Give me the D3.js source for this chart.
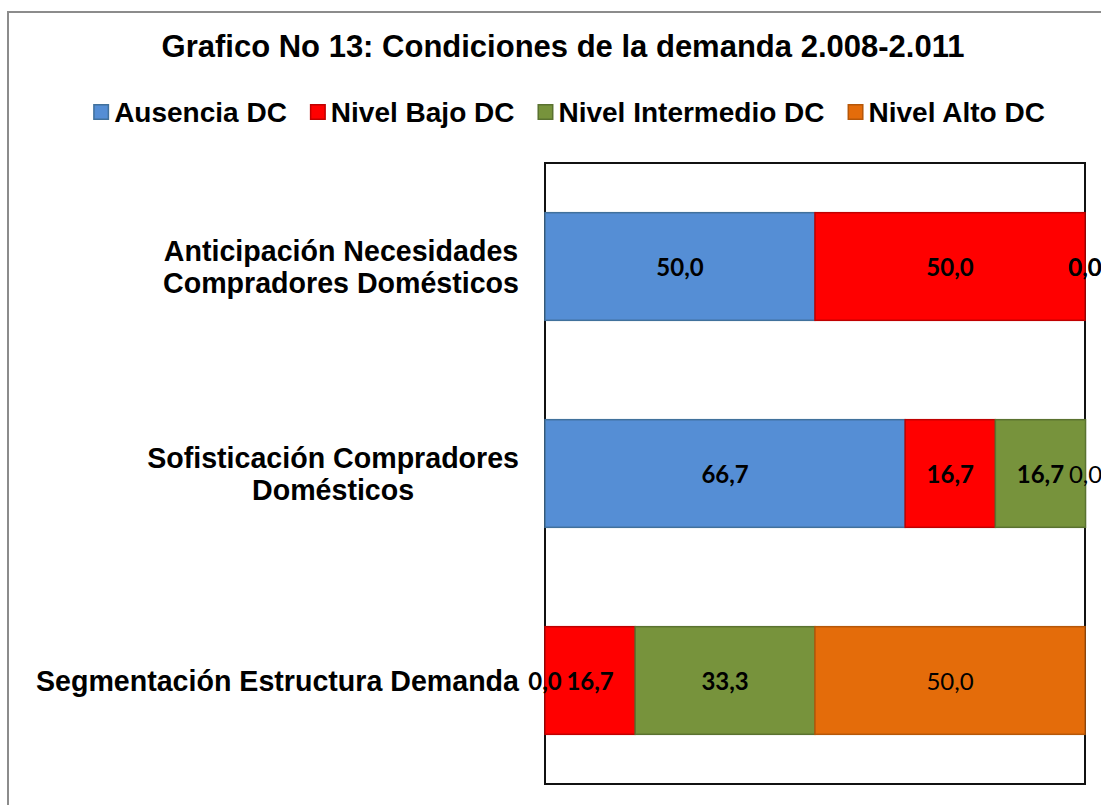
<!DOCTYPE html>
<html lang="es">
<head>
<meta charset="utf-8">
<title>Grafico No 13: Condiciones de la demanda</title>
<script src="https://cdn.jsdelivr.net/npm/d3@7"></script>
<style>
  body { margin: 0; background: #fff; }
  text { font-family: "Liberation Sans", Arial, sans-serif; }
  .val { font-family: Lato, "Open Sans", sans-serif; font-size: 24px; }
</style>
</head>
<body>
<script>
// categories (line breaks as in the original axis labels)
var categories = [
    "Anticipación Necesidades\nCompradores Domésticos",
    "Sofisticación Compradores\nDomésticos",
    "Segmentación Estructura Demanda"
];
var seriesNames = ["Ausencia DC", "Nivel Bajo DC", "Nivel Intermedio DC", "Nivel Alto DC"];

// values per series, one per category (%)
var ausencia   = [50.0, 66.7, 0.0];
var bajo       = [50.0, 16.7, 16.7];
var intermedio = [0.0, 16.7, 33.3];
var alto       = [0.0, 0.0, 50.0];

var w = 1101, h = 805;
var fills   = ["#558ed5", "#ff0000", "#77933c", "#e46c0a"];
var strokes = ["#41719c", "#c00000", "#5a7230", "#b65708"];
var boldLabel = [true, true, true, false];

var svg = d3.select("body").append("svg")
    .attr("width", w)
    .attr("height", h);

// outer chart border (runs past the right/bottom edge of the picture)
svg.append("rect")
    .attr("x", 8).attr("y", 12)
    .attr("width", w + 20).attr("height", h + 20)
    .attr("fill", "#fff")
    .attr("stroke", "#8c8c8c")
    .attr("stroke-width", 2);

// title
svg.append("text")
    .attr("x", 563).attr("y", 57)
    .attr("text-anchor", "middle")
    .attr("font-size", "31px")
    .attr("font-weight", "bold")
    .text("Grafico No 13: Condiciones de la demanda 2.008-2.011");

// build table for the stack
var table = categories.map(function(c, i) {
    return {cat: c, "Ausencia DC": ausencia[i], "Nivel Bajo DC": bajo[i],
            "Nivel Intermedio DC": intermedio[i], "Nivel Alto DC": alto[i]};
});
var stacked = d3.stack().keys(seriesNames)(table);

// scales
var xScale = d3.scaleLinear().domain([0, 100]).range([545, 1085]);
var yScale = d3.scaleBand().domain(categories).range([163, 784])
    .paddingInner(0.48).paddingOuter(0.24);

// plot frame
svg.append("rect")
    .attr("x", xScale(0)).attr("y", 163)
    .attr("width", xScale(100) - xScale(0)).attr("height", 784 - 163)
    .attr("fill", "none")
    .attr("stroke", "#111")
    .attr("stroke-width", 2);

// bars
var layers = svg.selectAll("g.layer")
    .data(stacked)
    .enter()
    .append("g")
    .attr("class", "layer");

layers.selectAll("rect")
    .data(function(d) { return d; })
    .enter()
    .append("rect")
    .attr("x", function(d) { return xScale(d[0]); })
    .attr("y", function(d) { return yScale(d.data.cat); })
    .attr("width", function(d) { return xScale(d[1]) - xScale(d[0]); })
    .attr("height", yScale.bandwidth())
    .attr("fill", function(d, i, nodes) { return fills[stacked.indexOf(d3.select(nodes[i].parentNode).datum())]; })
    .attr("stroke", function(d, i, nodes) { return strokes[stacked.indexOf(d3.select(nodes[i].parentNode).datum())]; })
    .attr("stroke-width", 1.5);

// category axis labels (right aligned block, lines centred)
var catG = svg.append("g");
categories.forEach(function(c) {
    var lines = c.split("\n");
    var cy = yScale(c) + yScale.bandwidth() / 2;
    var lh = 32;
    var t = catG.append("text")
        .attr("font-size", "28.6px")
        .attr("font-weight", "bold")
        .attr("text-anchor", "middle");
    lines.forEach(function(l, k) {
        t.append("tspan")
            .attr("y", cy + 10 + (k - (lines.length - 1) / 2) * lh)
            .text(l);
    });
    var maxW = 0;
    t.selectAll("tspan").each(function() { maxW = Math.max(maxW, this.getComputedTextLength()); });
    t.selectAll("tspan").attr("x", 519 - maxW / 2);
});

// data labels
stacked.forEach(function(layer, si) {
    svg.append("g").selectAll("text")
        .data(layer)
        .enter()
        .append("text")
        .attr("class", "val")
        .attr("x", function(d) { return (xScale(d[0]) + xScale(d[1])) / 2; })
        .attr("y", function(d) { return yScale(d.data.cat) + yScale.bandwidth() / 2 + 9; })
        .attr("text-anchor", "middle")
        .attr("font-weight", boldLabel[si] ? "bold" : "normal")
        .text(function(d) { return d3.format(".1f")(d[1] - d[0]).replace(".", ","); });
});

// legend
var legend = svg.append("g");
var lx = 0;
seriesNames.forEach(function(s, i) {
    var g = legend.append("g").attr("transform", "translate(" + lx + ",0)");
    g.append("rect")
        .attr("x", 0.75).attr("y", 104.75)
        .attr("width", 14.5).attr("height", 14.5)
        .attr("fill", fills[i])
        .attr("stroke", strokes[i])
        .attr("stroke-width", 1.5);
    var t = g.append("text")
        .attr("x", 21).attr("y", 122)
        .attr("font-size", "28px")
        .attr("font-weight", "bold")
        .text(s);
    lx += 21 + t.node().getComputedTextLength() + 23;
});
var legW = lx - 23;
legend.attr("transform", "translate(" + (569 - legW / 2) + ",0)");
</script>
</body>
</html>
